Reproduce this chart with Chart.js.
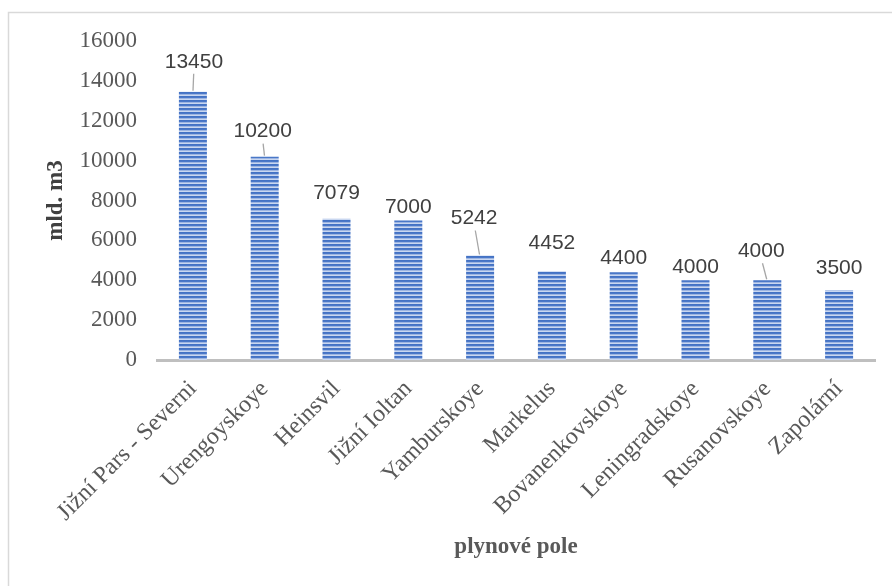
<!DOCTYPE html>
<html>
<head>
<meta charset="utf-8">
<script src="https://cdn.jsdelivr.net/npm/chart.js@4/dist/chart.umd.min.js"></script>
<style>
  html, body { margin: 0; padding: 0; background: #ffffff; }
  #wrap { width: 892px; height: 586px; position: relative; }
</style>
</head>
<body>
<div id="wrap"><canvas id="c" width="892" height="586"></canvas></div>
<script>
const categories = ["Jižní Pars - Severni", "Urengoyskoye", "Heinsvil", "Jižní Ioltan", "Yamburskoye", "Markelus", "Bovanenkovskoye", "Leningradskoye", "Rusanovskoye", "Zapolární"];
const reserves = [13450, 10200, 7079, 7000, 5242, 4452, 4400, 4000, 4000, 3500];
const yTicks = [0, 2000, 4000, 6000, 8000, 10000, 12000, 14000, 16000];

// label placement styling (pixel offsets of label centre from bar top)
const labelStyle = {
  dy: [-30, -25, -26, -13, -37, -28, -14, -13, -29, -22],
  dx: [1, -2, 0, 0, -6, 0, 0, 0, -6, 0],
  leader: [true, true, false, false, true, false, false, false, true, false]
};

const SERIF = '"Liberation Serif", "Times New Roman", serif';

function makePattern() {
  const p = document.createElement('canvas');
  p.width = 1; p.height = 4;
  const g = p.getContext('2d');
  const cols = ['#4472C4', '#4A78C8', '#9DB5E2', '#C9D7F0'];
  for (let i = 0; i < 4; i++) { g.fillStyle = cols[i]; g.fillRect(0, i, 1, 1); }
  return document.getElementById('c').getContext('2d').createPattern(p, 'repeat');
}

const framePlugin = {
  id: 'frame',
  beforeDraw(chart) {
    const ctx = chart.ctx;
    ctx.save();
    ctx.fillStyle = '#ffffff';
    ctx.fillRect(0, 0, chart.width, chart.height);
    ctx.strokeStyle = '#D9D9D9';
    ctx.lineWidth = 1.5;
    ctx.beginPath();
    ctx.moveTo(8.5, chart.height);
    ctx.lineTo(8.5, 12.5);
    ctx.lineTo(chart.width, 12.5);
    ctx.stroke();
    ctx.restore();
  }
};

const labelPlugin = {
  id: 'barLabels',
  afterDatasetsDraw(chart) {
    const ctx = chart.ctx;
    const meta = chart.getDatasetMeta(0);
    ctx.save();
    ctx.font = '21px "Liberation Sans", Arial, sans-serif';
    ctx.fillStyle = '#404040';
    ctx.textAlign = 'center';
    ctx.textBaseline = 'middle';
    meta.data.forEach((bar, i) => {
      const v = chart.data.datasets[0].data[i];
      const x = bar.x + labelStyle.dx[i];
      const y = bar.y + labelStyle.dy[i];
      ctx.fillText(String(v), x, y);
      if (labelStyle.leader[i]) {
        ctx.strokeStyle = '#A6A6A6';
        ctx.lineWidth = 1.3;
        ctx.beginPath();
        ctx.moveTo(x + (bar.x - x) * 0.2, y + 12);
        ctx.lineTo(bar.x + (x - bar.x) * 0.1, bar.y - 1);
        ctx.stroke();
      }
    });
    ctx.restore();
  }
};

const chart = new Chart(document.getElementById('c'), {
  type: 'bar',
  data: {
    labels: categories,
    datasets: [{
      data: reserves,
      backgroundColor: makePattern(),
      borderWidth: 0,
      barPercentage: 0.78,
      categoryPercentage: 0.5
    }]
  },
  options: {
    responsive: false,
    animation: false,
    devicePixelRatio: 1,
    layout: { padding: { left: 30, right: 17, top: 41, bottom: 22 } },
    plugins: { legend: { display: false }, tooltip: { enabled: false } },
    scales: {
      x: {
        grid: { display: false, drawTicks: false },
        border: { display: true, color: '#BFBFBF', width: 3 },
        ticks: {
          minRotation: 45, maxRotation: 45, padding: 15, autoSkip: false,
          color: '#595959',
          font: { family: SERIF, size: 24 }
        },
        title: {
          display: true, text: 'plynové pole', color: '#595959',
          padding: { top: 4, bottom: 3 },
          font: { family: SERIF, size: 23, weight: 'bold' }
        },
        afterFit(scale) { scale.height = 204; }
      },
      y: {
        min: 0, max: 16000,
        grid: { display: false, drawTicks: false },
        border: { display: false },
        afterBuildTicks(scale) { scale.ticks = yTicks.map(v => ({ value: v })); },
        ticks: {
          padding: 20, color: '#595959',
          callback: (v) => String(v),
          font: { family: SERIF, size: 23 }
        },
        title: {
          display: true, text: 'mld. m3', color: '#404040',
          padding: { top: 12, bottom: 4 },
          font: { family: SERIF, size: 23, weight: 'bold' }
        },
        afterFit(scale) { scale.width = 127; }
      }
    }
  },
  plugins: [framePlugin, labelPlugin]
});
</script>
</body>
</html>
